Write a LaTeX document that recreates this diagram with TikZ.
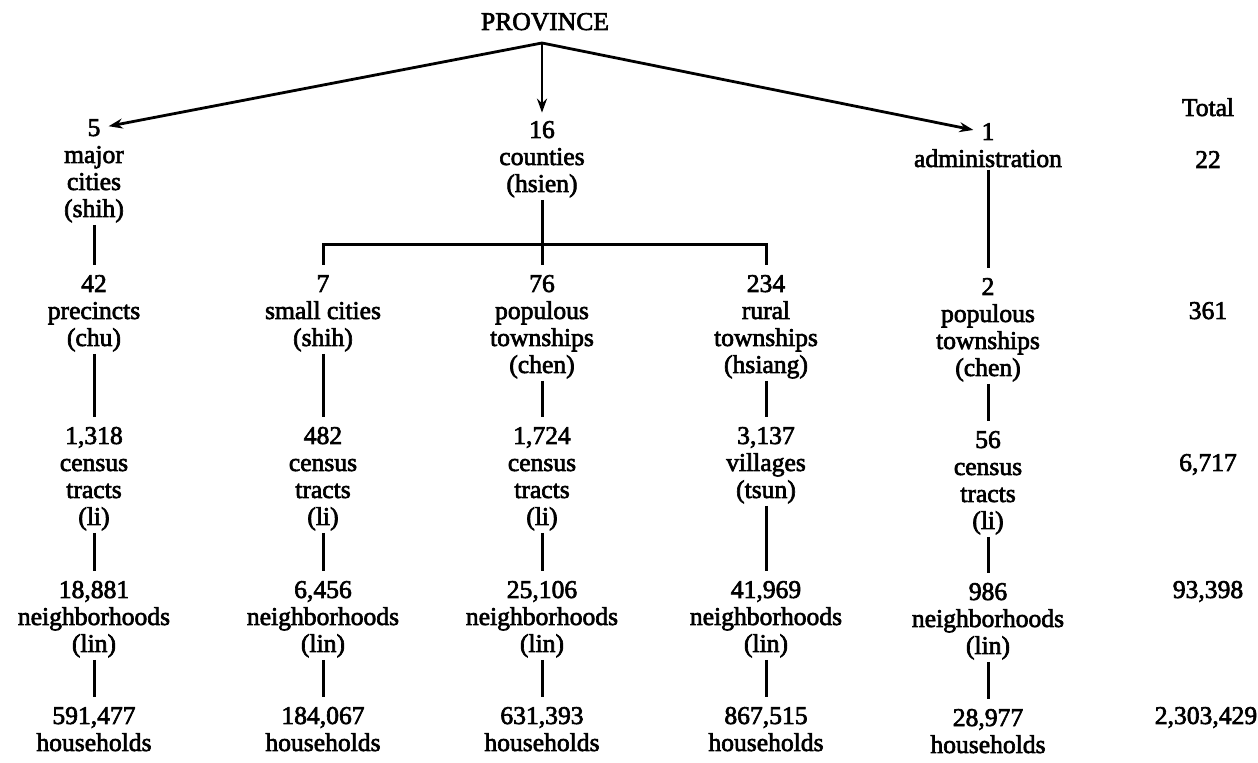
\documentclass[tikz,border=0pt]{standalone}
\usepackage{fontspec}
\setmainfont{Liberation Serif}
\newfontfamily\chartfont{Liberation Serif}[FakeBold=2.5]
\usetikzlibrary{arrows.meta,positioning,calc}

\begin{document}
\begin{tikzpicture}[x=0.5pt, y=-0.5pt,
  txt/.style={font=\chartfont\fontsize{12.8}{13.5}\selectfont, anchor=base, align=center, inner sep=1pt},
  num/.style={txt, inner sep=0pt},
  lbl/.style={txt},
  tot/.style={txt},
  arr/.style={-{Stealth[length=7pt, width=5pt]}, line width=1.4pt, shorten >=4pt},
  link/.style={line width=1.5pt, shorten >=5pt}
]
\useasboundingbox (0,0) rectangle (1258,763);
\node[txt] (prov) at (545,30) {PROVINCE};
\coordinate (apex) at (542,43);
\coordinate (bar) at (542,245);
% level 1 (labels sit on the baseline of their last line)
\node[num] (n5) at (94,136) {5};
\node[lbl] (majcity) at (94,217) {major\\cities\\(shih)};
\node[num] (n16) at (542,138) {16};
\node[lbl] (county) at (542,192) {counties\\(hsien)};
\node[num] (n1) at (988,140) {1};
\node[lbl] (admin) at (988,167) {administration};
% level 2
\node[num] (n42) at (94,292) {42};
\node[lbl] (precinct) at (94,346) {precincts\\(chu)};
\node[num] (n7) at (323,292) {7};
\node[lbl] (smcity) at (323,346) {small cities\\(shih)};
\node[num] (n76) at (542,292) {76};
\node[lbl] (popts) at (542,373) {populous\\townships\\(chen)};
\node[num] (n234) at (766,292) {234};
\node[lbl] (rurts) at (766,373) {rural\\townships\\(hsiang)};
\node[num] (n2) at (988,295) {2};
\node[lbl] (admts) at (988,376) {populous\\townships\\(chen)};
% level 3
\node[num] (n1318) at (94,444) {1,318};
\node[lbl] (tract1) at (94,525) {census\\tracts\\(li)};
\node[num] (n482) at (323,444) {482};
\node[lbl] (tract2) at (323,525) {census\\tracts\\(li)};
\node[num] (n1724) at (542,444) {1,724};
\node[lbl] (tract3) at (542,525) {census\\tracts\\(li)};
\node[num] (n3137) at (766,444) {3,137};
\node[lbl] (village) at (766,498) {villages\\(tsun)};
\node[num] (n56) at (988,448) {56};
\node[lbl] (tract5) at (988,529) {census\\tracts\\(li)};
% level 4
\node[num] (n18881) at (94,598) {18,881};
\node[lbl] (nbh1) at (94,652) {neighborhoods\\(lin)};
\node[num] (n6456) at (323,598) {6,456};
\node[lbl] (nbh2) at (323,652) {neighborhoods\\(lin)};
\node[num] (n25106) at (542,598) {25,106};
\node[lbl] (nbh3) at (542,652) {neighborhoods\\(lin)};
\node[num] (n41969) at (766,598) {41,969};
\node[lbl] (nbh4) at (766,652) {neighborhoods\\(lin)};
\node[num] (n986) at (988,600) {986};
\node[lbl] (nbh5) at (988,654) {neighborhoods\\(lin)};
% level 5
\node[num] (n591477) at (94,724) {591,477};
\node[lbl] (hh1) at (94,751) {households};
\node[num] (n184067) at (323,724) {184,067};
\node[lbl] (hh2) at (323,751) {households};
\node[num] (n631393) at (542,724) {631,393};
\node[lbl] (hh3) at (542,751) {households};
\node[num] (n867515) at (766,724) {867,515};
\node[lbl] (hh4) at (766,751) {households};
\node[num] (n28977) at (988,726) {28,977};
\node[lbl] (hh5) at (988,753) {households};
% totals
\node[tot] (total) at (1208,116) {Total};
\node[tot] (tot1) at (1208,168) {22};
\node[tot] (tot2) at (1208,319) {361};
\node[tot] (tot3) at (1208,471) {6,717};
\node[tot] (tot4) at (1208,598) {93,398};
\node[tot] (tot5) at (1206,724) {2,303,429};
% arrows from the province
\draw[arr] (apex) -- (n5.east);
\draw[arr] (apex) -- (n16.north);
\draw[arr] (apex) -- (n1.west);
% counties split
\draw[link] (county) -- (n76);
\draw[link, shorten <=5pt] (n7.north) |- (bar) -| (n234.north);
% columns
\draw[link] (majcity) -- (n42); \draw[link] (precinct) -- (n1318);
\draw[link] (tract1) -- (n18881); \draw[link] (nbh1) -- (n591477);
\draw[link] (smcity) -- (n482); \draw[link] (tract2) -- (n6456);
\draw[link] (nbh2) -- (n184067);
\draw[link] (popts) -- (n1724); \draw[link] (tract3) -- (n25106);
\draw[link] (nbh3) -- (n631393);
\draw[link] (rurts) -- (n3137); \draw[link] (village) -- (n41969);
\draw[link] (nbh4) -- (n867515);
\draw[link] (admin) -- (n2); \draw[link] (admts) -- (n56);
\draw[link] (tract5) -- (n986); \draw[link] (nbh5) -- (n28977);
\end{tikzpicture}
\end{document}
